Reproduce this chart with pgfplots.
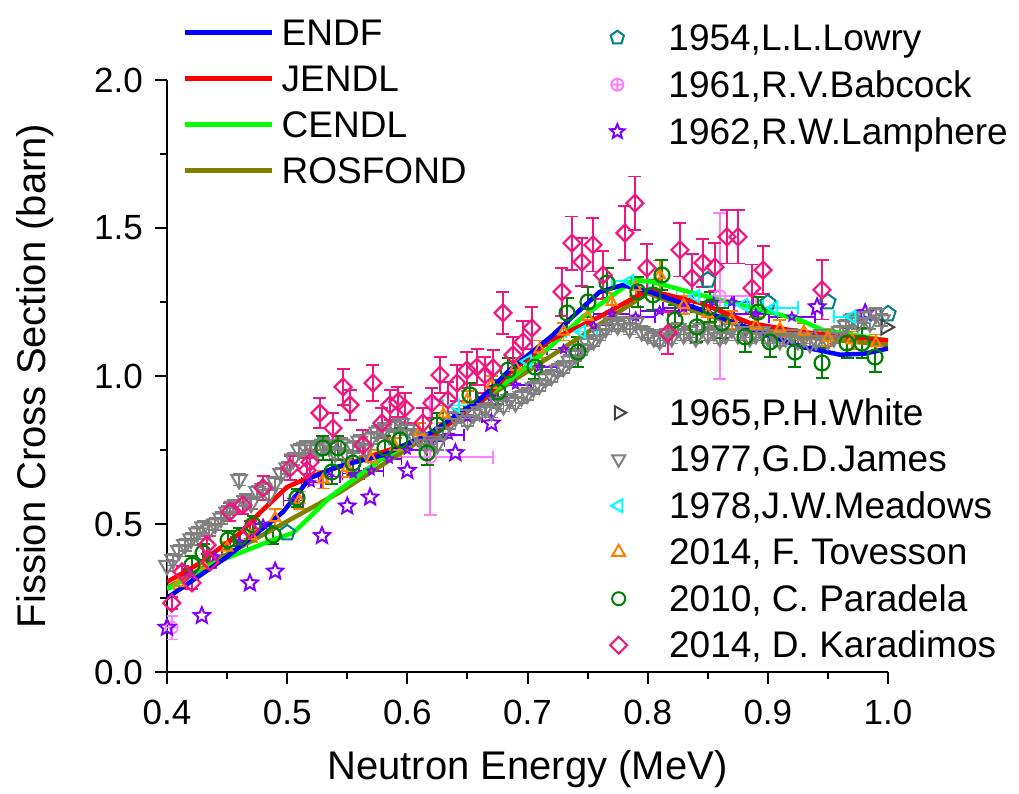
\documentclass[border=0pt]{standalone}
\usepackage{fontspec}
\setmainfont{Liberation Sans}
\usepackage{pgfplots}
\pgfplotsset{compat=1.18}
\usetikzlibrary{plotmarks}

\definecolor{endf}{HTML}{0000FF}
\definecolor{jendl}{HTML}{FF0000}
\definecolor{cendl}{HTML}{00FF00}
\definecolor{rosfond}{HTML}{808000}
\definecolor{lowry}{HTML}{008080}
\definecolor{babcock}{HTML}{FF80FF}
\definecolor{lamphere}{HTML}{8000FF}
\definecolor{white65}{HTML}{404040}
\definecolor{james}{HTML}{808080}
\definecolor{meadows}{HTML}{00FFFF}
\definecolor{tovesson}{HTML}{FF8000}
\definecolor{paradela}{HTML}{008000}
\definecolor{karadimos}{HTML}{F0167F}

% open five-pointed star
\pgfdeclareplotmark{ostar}{%
  \pgfpathmoveto{\pgfpointpolar{90}{\pgfplotmarksize}}%
  \pgfpathlineto{\pgfpointpolar{126}{0.45\pgfplotmarksize}}%
  \pgfpathlineto{\pgfpointpolar{162}{\pgfplotmarksize}}%
  \pgfpathlineto{\pgfpointpolar{198}{0.45\pgfplotmarksize}}%
  \pgfpathlineto{\pgfpointpolar{234}{\pgfplotmarksize}}%
  \pgfpathlineto{\pgfpointpolar{270}{0.45\pgfplotmarksize}}%
  \pgfpathlineto{\pgfpointpolar{306}{\pgfplotmarksize}}%
  \pgfpathlineto{\pgfpointpolar{342}{0.45\pgfplotmarksize}}%
  \pgfpathlineto{\pgfpointpolar{18}{\pgfplotmarksize}}%
  \pgfpathlineto{\pgfpointpolar{54}{0.45\pgfplotmarksize}}%
  \pgfpathclose\pgfusepathqstroke}

\pgfplotsset{
  frame/.style={at={(167pt,122pt)}, anchor=south west, scale only axis,
    width=721pt, height=592pt},
  ybars/.style={error bars/.cd, y dir=both, y explicit,
    error bar style={line width=1.8pt},
    error mark options={rotate=90, line width=1.8pt, mark size=6.5pt}},
  legfont/.style={font=\fontsize{37}{44}\selectfont},
  markleg/.style={legend cell align=left,
    legend image code/.code={\draw[##1] plot coordinates {(0pt,0pt)};}},
}

\begin{document}
\begin{tikzpicture}
\path[use as bounding box] (0pt,0pt) rectangle (1019pt,794pt);

\begin{axis}[
  frame,
  xmin=0.4, xmax=1.0, ymin=0, ymax=2.0,
  axis x line*=bottom, axis y line*=left,
  axis line style={line width=2.4pt, -},
  xtick={0.4,0.5,0.6,0.7,0.8,0.9,1.0},
  ytick={0,0.5,1.0,1.5,2.0},
  minor x tick num=1, minor y tick num=1,
  tick align=outside,
  major tick length=12pt, minor tick length=7pt,
  every tick/.style={black, line width=2pt},
  /pgf/number format/assume math mode=true,
  xticklabel style={/pgf/number format/fixed, /pgf/number format/fixed zerofill,
    /pgf/number format/precision=1, anchor=north, inner sep=0pt, yshift=-16pt},
  yticklabel style={/pgf/number format/fixed, /pgf/number format/fixed zerofill,
    /pgf/number format/precision=1, anchor=east, inner sep=0pt, xshift=-12pt},
  ticklabel style={font=\fontsize{35}{42}\selectfont},
  xlabel={Neutron Energy (MeV)},
  ylabel={Fission Cross Section (barn)},
  label style={font=\fontsize{40}{48}\selectfont},
  xlabel style={at={(axis description cs:0.5,-0.1824)}, anchor=base},
  ylabel style={at={(axis description cs:-0.1692,0.5)}, anchor=base},
]

% 1954 Lowry
\addplot[only marks, color=lowry, mark=pentagon, mark size=8pt, line width=2pt]
  table[row sep=\\] {x y\\ 0.500 0.47\\ 0.850 1.324\\ 0.900 1.247\\ 0.950 1.250\\ 1.000 1.210\\};

% 1961 Babcock
\addplot[only marks, color=babcock, mark=oplus, mark size=6pt, line width=1.8pt,
  error bars/.cd, x dir=both, x explicit, y dir=both, y explicit,
  error bar style={line width=1.8pt},
  error mark options={rotate=90, line width=1.8pt, mark size=6.5pt}]
  table[row sep=\\, x error=xe, y error=ye] {x y xe ye\\
  0.404 0.150 0.000 0.040\\
  0.619 0.726 0.052 0.196\\
  0.860 1.270 0.030 0.280\\};

% 1962 Lamphere, large stars
\addplot[only marks, color=lamphere, mark=ostar, mark size=8.5pt, line width=2pt]
  table[row sep=\\] {x y\\
  0.400 0.150\\ 0.429 0.190\\ 0.469 0.300\\ 0.490 0.340\\ 0.529 0.460\\
  0.550 0.560\\ 0.569 0.590\\ 0.600 0.680\\ 0.640 0.740\\ 0.670 0.840\\
  0.941 1.233\\ 0.981 1.213\\};
% 1962 Lamphere, small stars with energy bars
\addplot[only marks, color=lamphere, mark=ostar, mark size=4.5pt, line width=1.6pt,
  error bars/.cd, x dir=both, x explicit,
  error bar style={line width=1.6pt},
  error mark options={rotate=90, line width=1.6pt, mark size=6pt}]
  table[row sep=\\, x error=xe] {x y xe\\
  0.420 0.33 0.006\\ 0.440 0.39 0.006\\ 0.460 0.44 0.007\\ 0.480 0.50 0.007\\
  0.505 0.58 0.008\\ 0.520 0.64 0.008\\ 0.535 0.66 0.009\\ 0.555 0.67 0.009\\
  0.570 0.68 0.010\\ 0.585 0.72 0.010\\ 0.600 0.75 0.010\\ 0.620 0.78 0.011\\
  0.635 0.80 0.012\\ 0.650 0.86 0.012\\ 0.670 0.93 0.013\\ 0.690 0.97 0.013\\
  0.710 1.03 0.014\\ 0.730 1.09 0.014\\ 0.755 1.17 0.015\\ 0.770 1.21 0.015\\
  0.790 1.20 0.016\\ 0.810 1.22 0.016\\ 0.830 1.23 0.017\\ 0.855 1.25 0.017\\
  0.870 1.25 0.018\\ 0.890 1.21 0.018\\ 0.920 1.20 0.019\\};

% 1965 White
\addplot[only marks, color=white65, mark=triangle, mark size=8.5pt, line width=2pt,
  mark options={rotate=-90}]
  table[row sep=\\] {x y\\ 0.998 1.165\\};

% 1977 James
\addplot[only marks, color=james, mark=triangle, mark size=9pt, line width=2pt,
  mark options={rotate=180}, ybars]
  table[row sep=\\, y error=e] {x y e\\
  0.400 0.36 0.02\\ 0.405 0.38 0.02\\ 0.410 0.41 0.02\\ 0.415 0.43 0.02\\
  0.420 0.45 0.02\\ 0.425 0.47 0.02\\ 0.430 0.49 0.02\\ 0.435 0.48 0.02\\
  0.440 0.50 0.02\\ 0.445 0.52 0.02\\ 0.450 0.54 0.02\\ 0.455 0.56 0.02\\
  0.460 0.65 0.02\\ 0.465 0.58 0.02\\ 0.470 0.57 0.02\\ 0.475 0.61 0.02\\
  0.480 0.62 0.02\\ 0.485 0.60 0.02\\ 0.490 0.64 0.02\\ 0.495 0.67 0.02\\
  0.500 0.69 0.02\\ 0.505 0.72 0.02\\ 0.510 0.75 0.02\\ 0.515 0.76 0.02\\
  0.520 0.76 0.02\\ 0.525 0.75 0.02\\ 0.530 0.77 0.02\\ 0.535 0.76 0.02\\
  0.540 0.74 0.02\\ 0.545 0.77 0.02\\ 0.550 0.73 0.02\\ 0.555 0.76 0.02\\
  0.560 0.78 0.02\\ 0.565 0.75 0.02\\ 0.570 0.79 0.02\\ 0.575 0.81 0.02\\
  0.580 0.82 0.02\\ 0.585 0.80 0.02\\ 0.590 0.83 0.02\\ 0.595 0.84 0.02\\
  0.600 0.82 0.02\\ 0.605 0.80 0.02\\ 0.610 0.79 0.02\\ 0.615 0.77 0.02\\
  0.620 0.78 0.02\\ 0.625 0.77 0.02\\ 0.630 0.81 0.02\\ 0.635 0.84 0.02\\
  0.640 0.86 0.02\\ 0.645 0.87 0.02\\ 0.650 0.85 0.02\\ 0.655 0.87 0.02\\
  0.660 0.88 0.02\\ 0.665 0.89 0.02\\ 0.670 0.88 0.02\\ 0.675 0.91 0.02\\
  0.680 0.90 0.02\\ 0.685 0.92 0.02\\ 0.690 0.91 0.02\\ 0.695 0.93 0.02\\
  0.700 0.94 0.02\\ 0.705 0.96 0.02\\ 0.710 0.97 0.02\\ 0.715 0.99 0.02\\
  0.720 1.00 0.02\\ 0.725 1.02 0.02\\ 0.730 1.03 0.02\\ 0.735 1.05 0.02\\
  0.740 1.07 0.02\\ 0.745 1.09 0.02\\ 0.750 1.11 0.02\\ 0.755 1.12 0.02\\
  0.760 1.14 0.02\\ 0.765 1.16 0.02\\ 0.770 1.18 0.02\\ 0.775 1.17 0.02\\
  0.780 1.18 0.02\\ 0.785 1.16 0.02\\ 0.790 1.18 0.02\\ 0.795 1.15 0.02\\
  0.800 1.14 0.02\\ 0.805 1.13 0.02\\ 0.810 1.12 0.02\\ 0.815 1.14 0.02\\
  0.820 1.13 0.02\\ 0.825 1.16 0.02\\ 0.830 1.14 0.02\\ 0.835 1.15 0.02\\
  0.840 1.13 0.02\\ 0.845 1.16 0.02\\ 0.850 1.14 0.02\\ 0.855 1.15 0.02\\
  0.860 1.13 0.02\\ 0.865 1.14 0.02\\ 0.870 1.16 0.02\\ 0.875 1.14 0.02\\
  0.880 1.15 0.02\\ 0.885 1.13 0.02\\ 0.890 1.14 0.02\\ 0.895 1.15 0.02\\
  0.900 1.13 0.02\\ 0.905 1.14 0.02\\ 0.910 1.12 0.02\\ 0.915 1.13 0.02\\
  0.920 1.14 0.02\\ 0.925 1.12 0.02\\ 0.930 1.13 0.02\\ 0.935 1.11 0.02\\
  0.940 1.12 0.02\\ 0.945 1.14 0.02\\ 0.950 1.12 0.02\\ 0.955 1.13 0.02\\
  0.960 1.15 0.02\\ 0.965 1.17 0.02\\ 0.970 1.19 0.02\\ 0.975 1.18 0.02\\
  0.980 1.20 0.02\\ 0.985 1.18 0.02\\ 0.990 1.21 0.02\\ 0.995 1.19 0.02\\};

% 1978 Meadows
\addplot[only marks, color=meadows, mark=triangle, mark size=7pt, line width=2pt,
  mark options={rotate=90},
  error bars/.cd, x dir=both, x explicit,
  error bar style={line width=1.8pt},
  error mark options={rotate=90, line width=1.8pt, mark size=6.5pt}]
  table[row sep=\\, x error=xe] {x y xe\\
  0.640 0.90 0.010\\ 0.700 1.05 0.012\\ 0.745 1.15 0.013\\ 0.785 1.32 0.015\\
  0.840 1.27 0.016\\ 0.880 1.24 0.016\\ 0.905 1.23 0.020\\ 0.970 1.20 0.015\\};

% 2014 Tovesson
\addplot[only marks, color=tovesson, mark=triangle, mark size=6pt, line width=2pt, ybars]
  table[row sep=\\, y error=e] {x y e\\
  0.410 0.30 0.02\\ 0.430 0.36 0.02\\ 0.450 0.42 0.02\\ 0.470 0.46 0.02\\
  0.490 0.52 0.03\\ 0.510 0.58 0.03\\ 0.530 0.65 0.03\\ 0.550 0.69 0.03\\
  0.570 0.72 0.03\\ 0.590 0.76 0.03\\ 0.610 0.81 0.03\\ 0.630 0.87 0.03\\
  0.650 0.92 0.03\\ 0.670 0.97 0.03\\ 0.690 1.03 0.03\\ 0.710 1.09 0.03\\
  0.730 1.15 0.03\\ 0.750 1.20 0.03\\ 0.770 1.25 0.03\\ 0.790 1.30 0.03\\
  0.810 1.34 0.05\\ 0.830 1.24 0.03\\ 0.850 1.21 0.03\\ 0.870 1.19 0.03\\
  0.890 1.17 0.03\\ 0.910 1.16 0.03\\ 0.930 1.15 0.03\\ 0.950 1.13 0.03\\
  0.970 1.12 0.03\\ 0.990 1.11 0.03\\};

% 2010 Paradela
\addplot[only marks, color=paradela, mark=o, mark size=7.5pt, line width=2.2pt, ybars]
  table[row sep=\\, y error=e] {x y e\\
  0.4208 0.361 0.03\\ 0.4300 0.402 0.03\\ 0.4508 0.446 0.03\\ 0.4607 0.456 0.03\\
  0.4716 0.497 0.03\\ 0.4882 0.463 0.03\\ 0.5082 0.588 0.03\\ 0.5298 0.757 0.04\\
  0.5373 0.676 0.04\\ 0.5423 0.757 0.04\\ 0.5548 0.706 0.04\\ 0.5814 0.757 0.04\\
  0.5939 0.784 0.04\\ 0.6164 0.740 0.04\\ 0.6247 0.834 0.04\\ 0.6521 0.936 0.04\\
  0.6754 0.946 0.04\\ 0.6838 1.020 0.04\\ 0.7062 1.030 0.04\\ 0.7329 1.213 0.05\\
  0.7420 1.081 0.05\\ 0.7503 1.250 0.05\\ 0.7662 1.314 0.05\\ 0.7919 1.284 0.05\\
  0.8044 1.274 0.05\\ 0.8119 1.341 0.05\\ 0.8227 1.189 0.05\\ 0.8410 1.166 0.05\\
  0.8519 1.233 0.05\\ 0.8619 1.179 0.05\\ 0.8810 1.132 0.05\\ 0.8918 1.216 0.05\\
  0.9018 1.115 0.05\\ 0.9226 1.081 0.05\\ 0.9451 1.044 0.05\\ 0.9659 1.111 0.05\\
  0.9784 1.111 0.05\\ 0.9892 1.064 0.05\\};

% 2014 Karadimos
\addplot[only marks, color=karadimos, mark=square, mark size=6pt, line width=2.2pt,
  mark options={rotate=45}, ybars]
  table[row sep=\\, y error=e] {x y e\\
  0.4040 0.233 0.02\\ 0.4125 0.338 0.02\\ 0.4208 0.301 0.02\\ 0.4333 0.429 0.03\\
  0.4358 0.372 0.02\\ 0.4524 0.541 0.03\\ 0.4632 0.564 0.03\\ 0.4691 0.480 0.03\\
  0.4799 0.622 0.04\\ 0.5024 0.689 0.04\\ 0.5165 0.682 0.04\\ 0.5190 0.709 0.04\\
  0.5273 0.875 0.05\\ 0.5381 0.824 0.05\\ 0.5465 0.963 0.06\\ 0.5523 0.902 0.05\\
  0.5631 0.767 0.05\\ 0.5714 0.976 0.06\\ 0.5789 0.841 0.05\\ 0.5856 0.902 0.05\\
  0.5922 0.912 0.05\\ 0.5981 0.892 0.05\\ 0.6130 0.841 0.05\\ 0.6205 0.909 0.05\\
  0.6272 1.003 0.06\\ 0.6338 0.919 0.06\\ 0.6413 0.976 0.06\\ 0.6496 1.020 0.06\\
  0.6580 1.030 0.06\\ 0.6646 1.003 0.06\\ 0.6713 1.027 0.06\\ 0.6796 1.213 0.07\\
  0.6879 1.071 0.06\\ 0.6962 1.115 0.07\\ 0.7037 1.162 0.07\\ 0.7287 1.284 0.08\\
  0.7370 1.449 0.09\\ 0.7453 1.385 0.08\\ 0.7545 1.443 0.09\\ 0.7628 1.341 0.08\\
  0.7811 1.483 0.09\\ 0.7894 1.584 0.09\\ 0.7994 1.365 0.08\\ 0.8169 1.145 0.07\\
  0.8269 1.426 0.09\\ 0.8369 1.331 0.08\\ 0.8460 1.382 0.08\\ 0.8560 1.368 0.08\\
  0.8660 1.470 0.09\\ 0.8752 1.470 0.09\\ 0.8868 1.297 0.08\\ 0.8960 1.358 0.08\\
  0.9451 1.291 0.10\\};

% evaluations
\addplot[color=rosfond, line width=4.5pt, line join=round] coordinates {
  (0.400,0.284) (0.450,0.397) (0.500,0.509) (0.544,0.608) (0.600,0.754)
  (0.685,0.976) (0.750,1.148) (0.800,1.280) (0.8435,1.213) (0.885,1.162)
  (0.927,1.132) (1.000,1.105)};
\addplot[color=cendl, line width=4.5pt, line join=round] coordinates {
  (0.400,0.280) (0.4416,0.372) (0.488,0.446) (0.505,0.470) (0.5165,0.514)
  (0.5356,0.591) (0.577,0.716) (0.619,0.807) (0.685,0.986) (0.7187,1.098)
  (0.746,1.200) (0.777,1.290) (0.788,1.324) (0.804,1.318) (0.8435,1.274)
  (0.885,1.233) (0.927,1.189) (0.946,1.155) (1.000,1.120)};
\addplot[color=jendl, line width=4.5pt, line join=round] coordinates {
  (0.400,0.304) (0.4275,0.368) (0.461,0.470) (0.477,0.537) (0.500,0.625)
  (0.519,0.659) (0.5356,0.682) (0.577,0.740) (0.619,0.794) (0.660,0.909)
  (0.685,1.010) (0.7187,1.120) (0.760,1.200) (0.800,1.290) (0.8435,1.247)
  (0.885,1.179) (0.927,1.149) (1.000,1.120)};
\addplot[color=endf, line width=4.5pt, line join=round] coordinates {
  (0.400,0.250) (0.450,0.389) (0.4965,0.540) (0.519,0.655) (0.5415,0.693)
  (0.580,0.733) (0.619,0.807) (0.660,0.919) (0.685,1.020) (0.7187,1.130)
  (0.760,1.284) (0.779,1.307) (0.802,1.284) (0.8435,1.225) (0.885,1.160)
  (0.927,1.100) (0.960,1.072) (0.980,1.075) (1.000,1.093)};
\end{axis}

% legend: evaluated libraries
\begin{axis}[frame, xmin=0, xmax=1, ymin=0, ymax=1, hide axis,
  legend cell align=left,
  legend image code/.code={\draw[#1] (0pt,0pt) -- (87pt,0pt);},
  legend style={at={(0.0222,1.1047)}, anchor=north west, draw=none, fill=none,
    inner sep=0pt, row sep=17pt, column sep=7pt, legfont,
    nodes={inner sep=0pt, text height=27pt, text depth=2pt}}]
\addlegendimage{endf, line width=4.5pt}\addlegendentry{ENDF}
\addlegendimage{jendl, line width=4.5pt}\addlegendentry{JENDL}
\addlegendimage{cendl, line width=4.5pt}\addlegendentry{CENDL}
\addlegendimage{rosfond, line width=4.5pt}\addlegendentry{ROSFOND}
\end{axis}

% legend: early measurements
\begin{axis}[frame, xmin=0, xmax=1, ymin=0, ymax=1, hide axis, markleg,
  legend style={at={(0.6144,1.0963)}, anchor=north west, draw=none, fill=none,
    inner sep=0pt, row sep=18pt, column sep=44pt, legfont,
    nodes={inner sep=0pt, text height=27pt, text depth=2pt}}]
\addlegendimage{lowry, mark=pentagon, mark size=7pt, line width=2pt}
\addlegendentry{1954,L.L.Lowry}
\addlegendimage{babcock, mark=oplus, mark size=6pt, line width=2pt}
\addlegendentry{1961,R.V.Babcock}
\addlegendimage{lamphere, mark=ostar, mark size=7.5pt, line width=2pt}
\addlegendentry{1962,R.W.Lamphere}
\end{axis}

% legend: later measurements
\begin{axis}[frame, xmin=0, xmax=1, ymin=0, ymax=1, hide axis, markleg,
  legend style={at={(0.6144,0.4628)}, anchor=north west, draw=none, fill=none,
    inner sep=0pt, row sep=17.5pt, column sep=42pt, legfont,
    nodes={inner sep=0pt, text height=27pt, text depth=2pt}}]
\addlegendimage{white65, mark=triangle, mark size=7.5pt, mark options={rotate=-90}, line width=2pt}
\addlegendentry{1965,P.H.White}
\addlegendimage{james, mark=triangle, mark size=7.5pt, mark options={rotate=180}, line width=2pt}
\addlegendentry{1977,G.D.James}
\addlegendimage{meadows, mark=triangle, mark size=7.5pt, mark options={rotate=90}, line width=2pt}
\addlegendentry{1978,J.W.Meadows}
\addlegendimage{tovesson, mark=triangle, mark size=7.5pt, line width=2pt}
\addlegendentry{2014, F. Tovesson}
\addlegendimage{paradela, mark=o, mark size=6.5pt, line width=2pt}
\addlegendentry{2010, C. Paradela}
\addlegendimage{karadimos, mark=square, mark size=6pt, mark options={rotate=45}, line width=2pt}
\addlegendentry{2014, D. Karadimos}
\end{axis}
\end{tikzpicture}
\end{document}
